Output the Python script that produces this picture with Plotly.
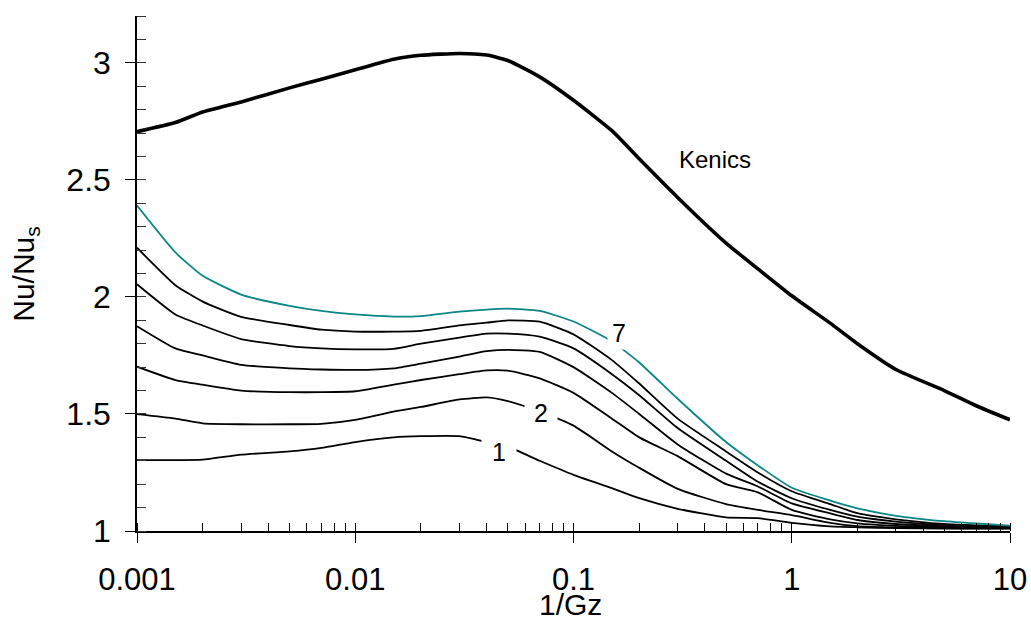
import math
import plotly.graph_objects as go

# 1/Gz values
inv_gz = [0.001, 0.0015, 0.002, 0.003, 0.005, 0.007, 0.01, 0.015, 0.02, 0.03,
          0.04, 0.05, 0.07, 0.1, 0.15, 0.2, 0.3, 0.5, 0.7, 1, 1.5, 2, 3, 5, 7, 10]

kenics = [2.706, 2.745, 2.79, 2.833, 2.893, 2.93, 2.97, 3.015, 3.032, 3.04,
          3.033, 3.01, 2.94, 2.84, 2.71, 2.59, 2.425, 2.23, 2.12, 2.005, 1.888,
          1.80, 1.69, 1.60, 1.535, 1.475]

n7 = [2.39, 2.19, 2.09, 2.01, 1.962, 1.94, 1.925, 1.916, 1.918, 1.937,
      1.946, 1.95, 1.94, 1.895, 1.81, 1.72, 1.565, 1.38, 1.28, 1.185, 1.13,
      1.097, 1.065, 1.042, 1.032, 1.023]

n6 = [2.21, 2.05, 1.98, 1.915, 1.88, 1.86, 1.852, 1.852, 1.855, 1.878,
      1.89, 1.90, 1.894, 1.84, 1.73, 1.63, 1.48, 1.34, 1.25, 1.17, 1.115,
      1.076, 1.05, 1.03, 1.024, 1.02]

n5 = [2.054, 1.925, 1.878, 1.82, 1.79, 1.78, 1.776, 1.778, 1.80, 1.826,
      1.843, 1.843, 1.83, 1.78, 1.67, 1.58, 1.44, 1.30, 1.21, 1.14, 1.09,
      1.061, 1.04, 1.025, 1.02, 1.017]

n4 = [1.875, 1.78, 1.75, 1.71, 1.695, 1.69, 1.688, 1.695, 1.715, 1.745,
      1.768, 1.774, 1.765, 1.70, 1.59, 1.50, 1.37, 1.245, 1.19, 1.118, 1.075,
      1.047, 1.03, 1.02, 1.016, 1.015]

n3 = [1.702, 1.645, 1.625, 1.60, 1.593, 1.593, 1.597, 1.625, 1.645, 1.67,
      1.686, 1.685, 1.652, 1.59, 1.48, 1.40, 1.32, 1.20, 1.165, 1.09, 1.05,
      1.033, 1.022, 1.017, 1.014, 1.013]

n2 = [1.499, 1.48, 1.46, 1.456, 1.456, 1.458, 1.475, 1.51, 1.53, 1.562,
      1.571, 1.555, 1.51, 1.45, 1.34, 1.27, 1.18, 1.115, 1.09, 1.068, 1.035,
      1.021, 1.015, 1.012, 1.011, 1.011]

n1 = [1.303, 1.303, 1.305, 1.326, 1.34, 1.355, 1.38, 1.40, 1.405, 1.405,
      1.38, 1.36, 1.30, 1.24, 1.183, 1.14, 1.095, 1.058, 1.055, 1.035, 1.02,
      1.016, 1.012, 1.01, 1.01, 1.01]

x_ticks = [0.001, 0.01, 0.1, 1, 10]
x_tick_text = ["0.001", "0.01", "0.1", "1", "10"]
y_ticks = [1, 1.5, 2, 2.5, 3]
y_tick_text = ["1", "1.5", "2", "2.5", "3"]

FONT = "Arial, Liberation Sans, sans-serif"
TEAL = "#0b8686"

fig = go.Figure()
for series, color, width in [(kenics, "black", 3.6), (n1, "black", 1.8), (n2, "black", 1.8),
                             (n3, "black", 1.8), (n4, "black", 1.8), (n5, "black", 1.8),
                             (n6, "black", 1.8), (n7, TEAL, 1.8)]:
    fig.add_trace(go.Scatter(x=inv_gz, y=series, mode="lines",
                             line=dict(color=color, width=width, shape="spline", smoothing=0.5),
                             showlegend=False, hoverinfo="skip"))

annotations = [
    dict(x=-0.3517, y=2.585, text="Kenics", showarrow=False,
         font=dict(size=24, color="black", family=FONT)),
    dict(x=-0.7915, y=1.846, text="7", showarrow=False, bgcolor="white",
         width=20, height=30, font=dict(size=25, color="black", family=FONT)),
    dict(x=-1.149, y=1.504, text="2", showarrow=False, bgcolor="white",
         width=30, height=26, font=dict(size=25, color="black", family=FONT)),
    dict(x=-1.3414, y=1.338, text="1", showarrow=False, bgcolor="white",
         width=32, height=26, font=dict(size=25, color="black", family=FONT)),
    dict(xref="paper", yref="paper", x=0.497, y=-0.143, xanchor="center", yanchor="middle",
         text="1/Gz", showarrow=False, font=dict(size=30, color="black", family=FONT)),
    dict(xref="paper", yref="paper", x=-0.128, y=0.5, xanchor="center", yanchor="middle",
         text="Nu/Nu<sub>s</sub>", textangle=-90, showarrow=False,
         font=dict(size=30, color="black", family=FONT)),
]

fig.update_layout(
    width=1031, height=621,
    margin=dict(l=137, r=21, t=16, b=90),
    paper_bgcolor="white", plot_bgcolor="white",
    font=dict(family=FONT, size=32, color="black"),
    annotations=annotations,
    xaxis=dict(type="log", range=[-3, 1], showgrid=False, zeroline=False, automargin=False,
               showline=True, linecolor="black", linewidth=1.5,
               ticks="outside", ticklen=10, tickwidth=1.2, tickcolor="black",
               tickvals=x_ticks, ticktext=x_tick_text, ticklabelstandoff=10,
               tickfont=dict(size=31),
               minor=dict(ticks="inside", ticklen=8, tickwidth=1, tickcolor="black",
                          dtick="D1", showgrid=False)),
    yaxis=dict(range=[1, 3.2], showgrid=False, zeroline=False, automargin=False,
               showline=True, linecolor="black", linewidth=1.5,
               ticks="outside", ticklen=10, tickwidth=1.2, tickcolor="black",
               tickvals=y_ticks, ticktext=y_tick_text, ticklabelstandoff=8,
               tickfont=dict(size=32),
               minor=dict(ticks="inside", ticklen=9, tickwidth=1, tickcolor="#333333",
                          dtick=0.1, showgrid=False)),
)

fig.write_html("out.html")
